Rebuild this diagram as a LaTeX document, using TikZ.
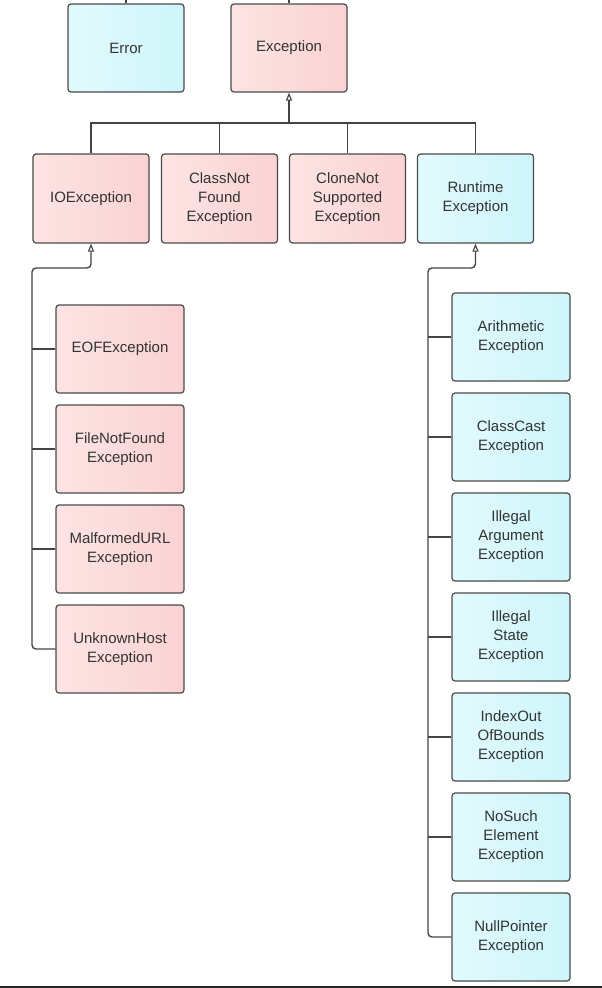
\documentclass[tikz,border=0pt]{standalone}
\usepackage{fontspec}
\setmainfont{Liberation Sans}
\usetikzlibrary{arrows.meta,positioning}
\definecolor{pinkA}{HTML}{FAD2D2}
\definecolor{pinkB}{HTML}{FDE4E4}
\definecolor{cyanA}{HTML}{CDF5FA}
\definecolor{cyanB}{HTML}{E2FAFD}
\definecolor{edge}{HTML}{4A4A4A}
\definecolor{txt}{HTML}{333333}
\tikzset{
  box/.style={draw=edge, line width=1.2pt, rounded corners=3pt, align=center,
    text=txt, inner sep=0pt, font=\fontsize{15}{19}\selectfont},
  pinkbox/.style={box, left color=pinkB, right color=pinkA},
  cyanbox/.style={box, left color=cyanB, right color=cyanA},
  wire/.style={draw=edge!90!black, line width=1.4pt},
  inh/.style={wire, -{Triangle[open, length=8pt, width=6pt, line width=1.1pt]}},
}
\begin{document}
\begin{tikzpicture}[x=1pt, y=-1pt]
\useasboundingbox (0,0) rectangle (602,988);
% top row
\node[cyanbox, minimum width=116pt, minimum height=88pt] (err) at (126,48) {Error};
\node[pinkbox, minimum width=116pt, minimum height=88pt] (exc) at (289,48) {Exception};
\coordinate (errtop) at (126,0);
\coordinate (exctop) at (289,0);
\draw[wire] (err.north) -- (errtop);
\draw[wire] (exc.north) -- (exctop);
% second row
\node[pinkbox, minimum width=116pt, minimum height=89pt] (io) at (91,198.5) {IOException};
\node[pinkbox, minimum width=116pt, minimum height=89pt] (cnf) at (219.5,198.5) {ClassNot\\Found\\Exception};
\node[pinkbox, minimum width=116pt, minimum height=89pt] (cns) at (347.5,198.5) {CloneNot\\Supported\\Exception};
\node[cyanbox, minimum width=116pt, minimum height=89pt] (rt) at (475.5,198.5) {Runtime\\Exception};
\coordinate (j) at (289,123);
\draw[wire] (io.north) -- (io.north |- j) -- (rt.north |- j) -- (rt.north);
\draw[wire] (cnf.north) -- (cnf.north |- j);
\draw[wire] (cns.north) -- (cns.north |- j);
\draw[inh] (j) -- (exc.south);
% IOException children
\node[pinkbox, minimum width=128pt, minimum height=88pt] (eof) at (120,349) {EOFException};
\node[pinkbox, minimum width=128pt, minimum height=88pt] (fnf) at (120,449) {FileNotFound\\Exception};
\node[pinkbox, minimum width=128pt, minimum height=88pt] (mal) at (120,549) {MalformedURL\\Exception};
\node[pinkbox, minimum width=128pt, minimum height=88pt] (unk) at (120,649) {UnknownHost\\Exception};
\coordinate (lt) at (32,268);
\draw[inh, rounded corners=4pt] (unk.west) -| (lt) -| (io.south);
\draw[wire] (eof.west) -- (eof.west -| lt);
\draw[wire] (fnf.west) -- (fnf.west -| lt);
\draw[wire] (mal.west) -- (mal.west -| lt);
% RuntimeException children
\node[cyanbox, minimum width=118pt, minimum height=88pt] (ari) at (511,337) {Arithmetic\\Exception};
\node[cyanbox, minimum width=118pt, minimum height=88pt] (cce) at (511,437) {ClassCast\\Exception};
\node[cyanbox, minimum width=118pt, minimum height=88pt] (iae) at (511,537) {Illegal\\Argument\\Exception};
\node[cyanbox, minimum width=118pt, minimum height=88pt] (ise) at (511,637) {Illegal\\State\\Exception};
\node[cyanbox, minimum width=118pt, minimum height=88pt] (iob) at (511,737) {IndexOut\\OfBounds\\Exception};
\node[cyanbox, minimum width=118pt, minimum height=88pt] (nse) at (511,837) {NoSuch\\Element\\Exception};
\node[cyanbox, minimum width=118pt, minimum height=88pt] (npe) at (511,937) {NullPointer\\Exception};
\coordinate (rtt) at (428,268);
\draw[inh, rounded corners=4pt] (npe.west) -| (rtt) -| (rt.south);
\foreach \n in {ari,cce,iae,ise,iob,nse}
  \draw[wire] (\n.west) -- (\n.west -| rtt);
% bottom rule
\draw[line width=2.5pt, color=black!85] (0,987) -- (602,987);
\end{tikzpicture}
\end{document}
